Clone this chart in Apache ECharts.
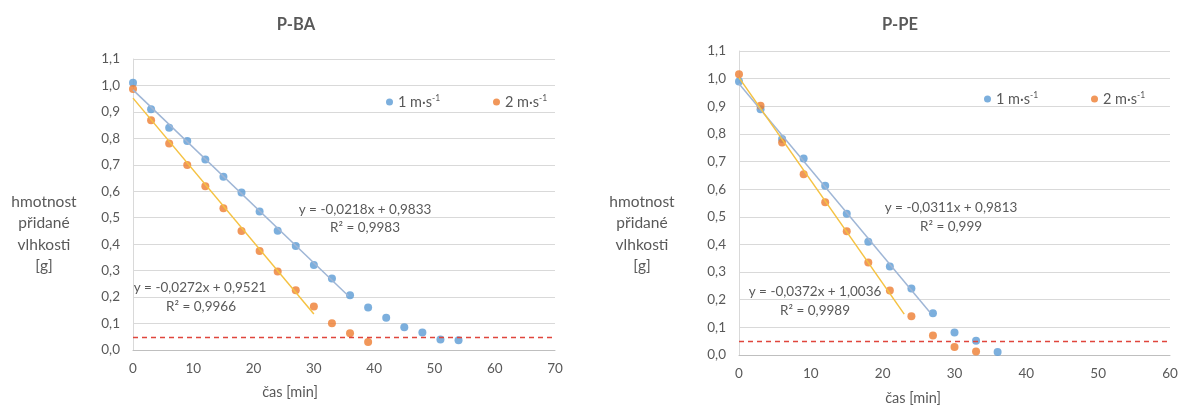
<!DOCTYPE html>
<html>
<head>
<meta charset="utf-8">
<script src="https://cdn.jsdelivr.net/npm/echarts@6/dist/echarts.min.js"></script>
<style>
html,body{margin:0;padding:0;background:#fff;}
#c{width:1185px;height:412px;}
</style>
</head>
<body>
<div id="c"></div>
<script>
// ---- data ----
const timeBA1 = [0,3,6,9,12,15,18,21,24,27,30,33,36,39,42,45,48,51,54];
const massBA1 = [1.01,0.91,0.84,0.79,0.72,0.655,0.595,0.524,0.451,0.393,0.321,0.27,0.207,0.161,0.122,0.086,0.066,0.04,0.037];
const timeBA2 = [0,3,6,9,12,15,18,21,24,27,30,33,36,39];
const massBA2 = [0.987,0.868,0.781,0.699,0.619,0.536,0.45,0.374,0.297,0.226,0.164,0.101,0.063,0.03];
const timePE1 = [0,3,6,9,12,15,18,21,24,27,30,33,36];
const massPE1 = [0.99,0.889,0.782,0.711,0.612,0.511,0.41,0.32,0.241,0.151,0.081,0.052,0.011];
const timePE2 = [0,3,6,9,12,15,18,21,24,27,30,33];
const massPE2 = [1.016,0.902,0.769,0.654,0.553,0.448,0.335,0.233,0.14,0.071,0.029,0.013];
// trendlines: [slope, intercept, xFrom, xTo]
const trendBA1 = [-0.0218, 0.9833, 0, 35.7];
const trendBA2 = [-0.0272, 0.9521, 0, 30];
const trendPE1 = [-0.0311, 0.9813, 0, 26.6];
const trendPE2 = [-0.0372, 1.0036, 0, 23];
const eqBA1 = ['y = -0,0218x + 0,9833', 'R² = 0,9983'];
const eqBA2 = ['y = -0,0272x + 0,9521', 'R² = 0,9966'];
const eqPE1 = ['y = -0,0311x + 0,9813', 'R² = 0,999'];
const eqPE2 = ['y = -0,0372x + 1,0036', 'R² = 0,9989'];
const limitY = 0.05;
const seriesNames = ['1 m·s-1', '2 m·s-1'];
const titles = ['P-BA', 'P-PE'];
const yName = 'hmotnost\npřidané\nvlhkosti\n[g]';
const xName = 'čas [min]';

// ---- styles ----
const FONT = 'Lato, "Open Sans", sans-serif';
const GRAY = '#595959';
const BLUE = '#5b9bd5', ORANGE = '#ed7d31';
const BLUE_T = '#9fb6d6', ORANGE_T = '#f5c242';

const zip = (xs, ys) => xs.map((x, i) => [x, ys[i]]);
const trend = t => [[t[2], t[0]*t[2]+t[1]], [t[3], t[0]*t[3]+t[1]]];
const fmt = v => v.toFixed(1).replace('.', ',');

function scatter(name, data, color, gi) {
  return { type:'scatter', name, data, xAxisIndex:gi, yAxisIndex:gi,
    symbolSize:8, itemStyle:{color}, z:3 };
}
function tline(data, color, gi) {
  return { type:'line', data, xAxisIndex:gi, yAxisIndex:gi, symbol:'none',
    lineStyle:{color, width:1.5}, z:4, silent:true };
}
function limit(gi) {
  return { type:'line', data:[], xAxisIndex:gi, yAxisIndex:gi, silent:true,
    markLine:{ symbol:'none', silent:true, label:{show:false},
      lineStyle:{color:'#e0463c', type:[5,4], width:1.3},
      data:[{yAxis:limitY}] } };
}
function xAxis(gi, max) {
  return { type:'value', gridIndex:gi, min:0, max, interval:10,
    axisLine:{show:true, lineStyle:{color:'#bfbfbf'}}, axisTick:{show:false},
    splitLine:{show:false},
    axisLabel:{color:GRAY, fontFamily:FONT, fontSize:13.5, margin:12} };
}
function yAxis(gi) {
  return { type:'value', gridIndex:gi, min:0, max:1.1, interval:0.1,
    axisLine:{show:true, lineStyle:{color:'#d9d9d9'}}, axisTick:{show:false},
    splitLine:{show:true, lineStyle:{color:'#d9d9d9'}},
    axisLabel:{color:GRAY, fontFamily:FONT, fontSize:13.5, margin:13, formatter:fmt} };
}
function legend(name, left, top) {
  return { data:[name], left, top, icon:'circle', itemWidth:7, itemHeight:7, itemGap:0,
    selectedMode:false,
    formatter: n => '{a|' + n.replace('-1','') + '}{b|-1}',
    textStyle:{ rich:{
      a:{color:GRAY, fontFamily:FONT, fontSize:14.5},
      b:{color:GRAY, fontFamily:FONT, fontSize:8.5, padding:[0,0,7,0]} } } };
}
function txt(x, y, text, size, lh) {
  return { type:'text', x, y,
    style:{ text, fill:GRAY, font: size + 'px ' + FONT, textAlign:'center', textVerticalAlign:'middle', lineHeight: lh || size*1.2 } };
}

const chart = echarts.init(document.getElementById('c'), null, {renderer:'canvas'});
chart.setOption({
  animation:false,
  backgroundColor:'#fff',
  title:[
    {text:titles[0], left:291, top:11, textAlign:'center', textStyle:{fontFamily:FONT, fontSize:16.5, fontWeight:'bold', color:GRAY}},
    {text:titles[1], left:895, top:11, textAlign:'center', textStyle:{fontFamily:FONT, fontSize:16.5, fontWeight:'bold', color:GRAY}}
  ],
  legend:[
    legend(seriesNames[0], 381, 89),
    legend(seriesNames[1], 488, 89),
    legend(seriesNames[0], 979, 86),
    legend(seriesNames[1], 1086, 86)
  ],
  grid:[
    {left:133, top:59, width:422, height:291},
    {left:739, top:51, width:431, height:304}
  ],
  xAxis:[xAxis(0,70), xAxis(1,60)],
  yAxis:[yAxis(0), yAxis(1)],
  series:[
    limit(0), limit(1),
    tline(trend(trendBA1), BLUE_T, 0),
    tline(trend(trendBA2), ORANGE_T, 0),
    tline(trend(trendPE1), BLUE_T, 1),
    tline(trend(trendPE2), ORANGE_T, 1),
    scatter(seriesNames[0], zip(timeBA1, massBA1), BLUE, 0),
    scatter(seriesNames[1], zip(timeBA2, massBA2), ORANGE, 0),
    scatter(seriesNames[0], zip(timePE1, massPE1), BLUE, 1),
    scatter(seriesNames[1], zip(timePE2, massPE2), ORANGE, 1)
  ],
  graphic:[
    txt(44, 234, yName, 15.5, 21.5),
    txt(642, 234, yName, 15.5, 21.5),
    txt(290, 392, xName, 14.5),
    txt(913, 398, xName, 14.5),
    txt(365, 210, eqBA1[0], 13.5), txt(365, 228, eqBA1[1], 13.5),
    txt(200, 288, eqBA2[0], 13.5), txt(201, 307, eqBA2[1], 13.5),
    txt(951, 208, eqPE1[0], 13.5), txt(951, 227, eqPE1[1], 13.5),
    txt(815, 292, eqPE2[0], 13.5), txt(815, 311, eqPE2[1], 13.5)
  ]
});
</script>
</body>
</html>
